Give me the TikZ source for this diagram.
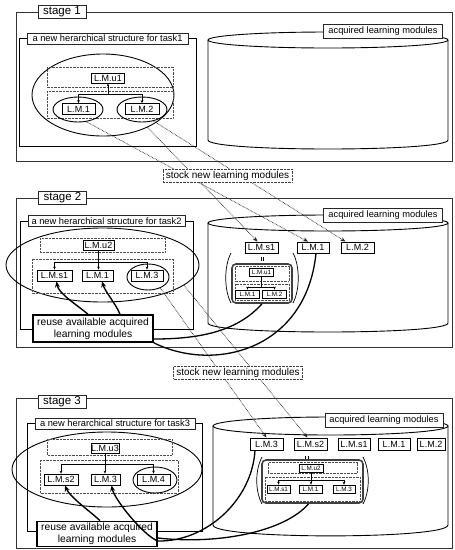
\documentclass[tikz,border=0pt]{standalone}
\usepackage{fontspec}
\setmainfont{Liberation Sans}
\usetikzlibrary{shapes.geometric,arrows.meta,calc}
\begin{document}
\begin{tikzpicture}[x=1pt,y=-1pt,
  stageframe/.style={draw=black!80, line width=0.9pt},
  structframe/.style={draw=black, line width=0.95pt},
  stagelab/.style={draw=black!85, line width=0.9pt, fill=white, inner sep=0pt, minimum width=48pt, minimum height=12.5pt, font=\fontsize{11.5}{11.5}\selectfont},
  structlab/.style={draw=black!85, line width=0.8pt, fill=white, inner sep=0pt, minimum height=11pt, font=\fontsize{9.3}{9.3}\selectfont},
  cyllab/.style={draw=black!85, line width=0.8pt, fill=white, inner sep=0pt, minimum height=14pt, minimum width=119pt, font=\fontsize{9.3}{9.3}\selectfont},
  stocklab/.style={draw=black!75, line width=0.8pt, dash pattern=on 0.5pt off 0.9pt, fill=white, inner sep=0pt, minimum height=13pt, minimum width=129pt, font=\fontsize{10}{10}\selectfont},
  lm/.style={draw, line width=0.8pt, fill=white, inner sep=0pt, minimum height=11pt, font=\fontsize{9}{9}\selectfont},
  lms/.style={draw, line width=0.6pt, fill=white, inner sep=0pt, minimum height=8pt, minimum width=24pt, font=\fontsize{6.3}{6.3}\selectfont},
  ell/.style={ellipse, draw, line width=0.9pt, inner sep=0pt},
  dotbox/.style={draw=black!70, line width=0.8pt, dash pattern=on 0.5pt off 0.9pt},
  grp/.style={draw=black!75, line width=1.6pt, rounded corners=4pt, inner sep=0pt},
  cyl/.style={draw=black, line width=0.9pt},
  reuse/.style={draw, line width=1.6pt, fill=white, inner sep=0pt, minimum width=120pt, align=center, font=\fontsize{10.3}{11.7}\selectfont},
  reusearrow/.style={line width=1.4pt, -{Stealth[length=6pt,width=5pt]}},
  reuseline/.style={line width=1.3pt},
  treeline/.style={line width=0.6pt},
  treearrow/.style={line width=0.6pt, -{Stealth[length=3pt,width=2.6pt]}},
  stockarrow/.style={draw=black!85, line width=0.8pt, dash pattern=on 0.6pt off 0.9pt, -{Stealth[length=5pt,width=4pt]}},
  paren/.style={line width=0.7pt}
]
\useasboundingbox (0,0) rectangle (455,550);

% ================= STAGE 1 =================
\draw[stageframe] (16,12) rectangle (452,161);
\draw[structframe] (19,38) rectangle (196,146);
% cylinder 1
\draw[cyl] (328,40) ellipse [x radius=120, y radius=8];
\draw[cyl] (208,40) -- (208,140) .. controls (208,152) and (448,152) .. (448,140) -- (448,40);
% structure 1
\node[ell, minimum width=142pt, minimum height=82pt] (E1) at (103,95) {};
\draw[dotbox] (47,67) rectangle (173,87);
\draw[dotbox] (47,91) rectangle (173,118);
\node[ell, minimum width=50pt, minimum height=25pt] (el11) at (78,109.5) {};
\node[ell, minimum width=50pt, minimum height=25pt] (el12) at (142,109.5) {};
\node[lm, minimum width=33pt, minimum height=10pt] (u11) at (108,78) {L.M.u1};
\node[lm, minimum width=33pt] (m11) at (78.5,109) {L.M.1};
\node[lm, minimum width=34pt] (m12) at (142,109) {L.M.2};
\coordinate (j1) at (108,94);
\draw[treearrow] (j1) -- (u11.south);
\draw[treeline] (m11.north |- j1) -- (m12.north |- j1);
\draw[treearrow] (m11.north |- j1) -- (m11.north);
\draw[treearrow] (m12.north |- j1) -- (m12.north);

% ================= STAGE 2 =================
\draw[stageframe] (16,198) rectangle (452,347);
\draw[structframe] (20,221) rectangle (193,329);
% cylinder 2
\draw[cyl] (328,223) ellipse [x radius=120, y radius=8];
\draw[cyl] (208,223) -- (208,323) .. controls (208,335) and (448,335) .. (448,323) -- (448,223);
\node[lm, minimum width=33pt] (c2s1) at (261.5,247.5) {L.M.s1};
\node[lm, minimum width=32pt] (c2m1) at (313,247.5) {L.M.1};
\node[lm, minimum width=33pt] (c2m2) at (357.5,247.5) {L.M.2};
\draw[line width=0.6pt] (261,256.5) -- (261,260.5) (263.5,256.5) -- (263.5,260.5);
\draw[paren] (231,253) .. controls (224,266) and (224,290) .. (231,303);
\draw[paren] (293,253) .. controls (300,266) and (300,290) .. (293,303);
\node[grp, minimum width=60pt, minimum height=39pt] (G1) at (262,283.5) {};
\draw[dotbox] (235,266.5) rectangle (289,281);
\draw[dotbox] (235,284) rectangle (289,300.5);
\node[lms] (g1u1) at (261.5,272.5) {L.M.u1};
\node[lms] (g1m1) at (247.5,294) {L.M.1};
\node[lms] (g1m2) at (274.5,294) {L.M.2};
\coordinate (jg1) at (261.5,287);
\draw[treeline] (g1u1.south) -- (jg1);
\draw[treeline] (g1m1.north |- jg1) -- (g1m2.north |- jg1);
\draw[treearrow] (g1m1.north |- jg1) -- (g1m1.north);
\draw[treearrow] (g1m2.north |- jg1) -- (g1m2.north);
% structure 2
\node[ell, minimum width=193pt, minimum height=74pt] (E2) at (102.5,265) {};
\draw[dotbox] (40,238) rectangle (165,252);
\draw[dotbox] (32,259) rectangle (173,293);
\node[ell, minimum width=42pt, minimum height=26pt] (el23) at (148,277) {};
\node[lm, minimum width=31pt, minimum height=10pt] (u2) at (98.5,245) {L.M.u2};
\node[lm, minimum width=35pt] (s21) at (54.5,275.5) {L.M.s1};
\node[lm, minimum width=31pt] (m21) at (97.5,275.5) {L.M.1};
\node[lm, minimum width=32pt] (m23) at (147,275.5) {L.M.3};
\coordinate (j2) at (98.5,262);
\draw[treearrow] (u2.south) -- (u2.south |- m21.north);
\draw[treeline] (s21.north |- j2) -- (m23.north |- j2);
\draw[treearrow] (s21.north |- j2) -- (s21.north);
\draw[treearrow] (m23.north |- j2) -- (m23.north);
\node[reuse, minimum height=27pt] (reuse2) at (93,328.5) {reuse available acquired\\learning modules};
\draw[reusearrow] ([xshift=-5pt]reuse2.north) .. controls +(-12,-10) and +(2,12) .. ([xshift=2pt]s21.south);
\draw[reusearrow] ([xshift=27pt]reuse2.north) .. controls +(-4,-10) and +(3,10) .. ([xshift=4.5pt]m21.south);
\draw[reuseline] ([yshift=-10.5pt]reuse2.east) .. controls +(45,0) and +(-25,28) .. (G1.south);
\draw[reuseline] (reuse2.south east) .. controls +(60,30) and +(-10,97) .. ([xshift=3pt]c2m1.south);

% ================= STAGE 3 =================
\draw[stageframe] (16,398) rectangle (452,548);
\draw[structframe] (27,423) rectangle (202,531);
% cylinder 3
\draw[cyl] (330.5,426) ellipse [x radius=117.5, y radius=9];
\draw[cyl] (213,426) -- (213,525) .. controls (213,539.5) and (448,539.5) .. (448,525) -- (448,426);
\node[lm, minimum width=33pt, minimum height=12pt] (c3m3) at (266.5,444) {L.M.3};
\node[lm, minimum width=33pt, minimum height=12pt] (c3s2) at (310.5,444) {L.M.s2};
\node[lm, minimum width=32pt, minimum height=12pt] (c3s1) at (354,444) {L.M.s1};
\node[lm, minimum width=32pt, minimum height=12pt] (c3m1) at (394,444) {L.M.1};
\node[lm, minimum width=28pt, minimum height=12pt] (c3m2) at (431,444) {L.M.2};
\draw[line width=0.6pt] (305.5,455.5) -- (305.5,459.5) (308,455.5) -- (308,459.5);
\draw[paren] (262,457) .. controls (255,470) and (255,491) .. (262,504);
\draw[paren] (363,457) .. controls (370,470) and (370,491) .. (363,504);
\node[grp, minimum width=101pt, minimum height=43pt] (G2) at (312.5,481.5) {};
\draw[dotbox] (268,462.5) rectangle (357,473.5);
\draw[dotbox] (265,477) rectangle (360,501);
\node[lms] (g2u2) at (311,468) {L.M.u2};
\node[lms, minimum width=23pt] (g2s1) at (278.5,489) {L.M.s1};
\node[lms, minimum width=23pt] (g2m1) at (310.5,489) {L.M.1};
\node[lms, minimum width=22pt] (g2m3) at (344,489) {L.M.3};
\coordinate (jg2) at (311,480);
\draw[treearrow] (g2u2.south) -- (g2u2.south |- g2m1.north);
\draw[treeline] (g2s1.north |- jg2) -- (g2m3.north |- jg2);
\draw[treearrow] (g2s1.north |- jg2) -- (g2s1.north);
\draw[treearrow] (g2m3.north |- jg2) -- (g2m3.north);
% structure 3
\node[ell, minimum width=190pt, minimum height=75pt] (E3) at (107,469.5) {};
\draw[dotbox] (47,439) rectangle (172,455);
\draw[dotbox] (40,460) rectangle (178,493);
\node[ell, minimum width=44pt, minimum height=26pt] (el34) at (155,480) {};
\node[lm, minimum width=28pt, minimum height=10pt] (u3) at (105,448) {L.M.u3};
\node[lm, minimum width=34pt] (s32) at (61,479.5) {L.M.s2};
\node[lm, minimum width=29pt] (m33) at (105.5,479.5) {L.M.3};
\node[lm, minimum width=33pt] (m34) at (153.5,479.5) {L.M.4};
\coordinate (j3) at (105,464);
\draw[treearrow] (u3.south) -- (u3.south |- m33.north);
\draw[treeline] (s32.north |- j3) -- (m34.north |- j3);
\draw[treearrow] (s32.north |- j3) -- (s32.north);
\draw[treearrow] (m34.north |- j3) -- (m34.north);
\node[reuse, minimum height=25pt] (reuse3) at (97,534) {reuse available acquired\\learning modules};
\draw[reusearrow] ([xshift=3pt]reuse3.north) .. controls +(-8,-8) and +(5,12) .. ([xshift=4pt]s32.south);
\draw[reusearrow] ([yshift=-7pt]reuse3.east) .. controls +(-15,-6) and +(3,14) .. ([xshift=6pt]m33.south);
\draw[reuseline] ([yshift=-7pt]reuse3.east) .. controls +(48,1) and +(-3,50) .. ([xshift=-11.5pt]c3m3.south);
\draw[reuseline] ([yshift=-4pt]reuse3.east) .. controls +(63,7) and +(-23,27) .. ([xshift=-4pt]G2.south);

% ================= STOCK ARROWS =================
\draw[stockarrow] (el11.-56) -- ([xshift=-5pt]c2m1.north);
\draw[stockarrow] (E1.-36) -- ([xshift=-4pt]c2s1.north);
\draw[stockarrow] (el12.-45) -- ([xshift=-12pt]c2m2.north);
\draw[stockarrow] (el23.-42) -- (c3m3.north);
\draw[stockarrow] (E2.-14) -- ([xshift=-3pt]c3s2.north);

% ================= LABELS =================
\node[stagelab] (st1) at (62,12) {stage 1};
\node[stagelab] (st2) at (62.5,198) {stage 2};
\node[stagelab] (st3) at (62,402) {stage 3};
\node[structlab, minimum width=161pt] (sl1) at (107.5,38.5) {a new herarchical structure for task1};
\node[structlab, minimum width=157pt] (sl2) at (106.5,221) {a new herarchical structure for task2};
\node[structlab, minimum width=160pt] (sl3) at (115,423.5) {a new herarchical structure for task3};
\node[cyllab] (cl1) at (383,31.5) {acquired learning modules};
\node[cyllab] (cl2) at (383,215) {acquired learning modules};
\node[cyllab, minimum width=118pt] (cl3) at (384,420) {acquired learning modules};
\node[stocklab] (sk1) at (227.5,175.5) {stock new learning modules};
\node[stocklab] (sk2) at (238,372.5) {stock new learning modules};
\end{tikzpicture}
\end{document}
